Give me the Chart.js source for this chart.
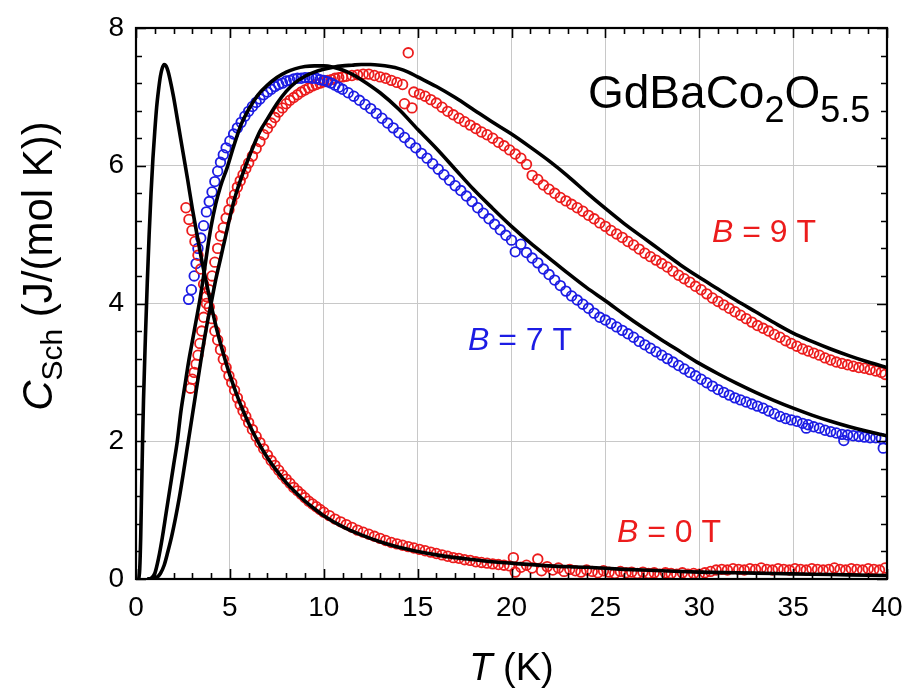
<!DOCTYPE html>
<html><head><meta charset="utf-8">
<script src="https://cdn.jsdelivr.net/npm/chart.js@4.4.1/dist/chart.umd.min.js"></script>
<style>html,body{margin:0;padding:0;background:#fff}</style>
</head><body>
<canvas id="c" width="906" height="690"></canvas>
<script>
// ---- data: B = 0 T (measured) ----
const t0 = [2.66,2.82,2.98,3.14,3.3,3.45,3.6,3.75,3.9,4.05,4.2,4.35,4.5,4.65,4.8,4.95,5.1,5.25,5.4,5.55,5.7,5.85,6.0,6.2,6.4,6.6,6.8,7.0,7.2,7.4,7.6,7.8,8.0,8.2,8.4,8.6,8.8,9.0,9.2,9.4,9.6,9.8,10.0,10.3,10.6,10.9,11.2,11.5,11.8,12.1,12.4,12.7,13.0,13.3,13.6,13.9,14.2,14.5,14.8,15.1,15.4,15.7,16.0,16.3,16.6,16.9,17.2,17.5,17.8,18.1,18.4,18.7,19.0,19.3,19.6,19.9,20.1,20.2,20.5,20.8,21.1,21.4,21.6,21.9,22.2,22.5,22.8,23.1,23.4,23.7,24.0,24.3,24.6,24.9,25.2,25.5,25.8,26.1,26.4,26.7,27.0,27.3,27.6,27.9,28.2,28.5,28.8,29.1,29.4,29.7,30.0,30.3,30.6,30.9,31.2,31.5,31.8,32.1,32.4,32.7,33.0,33.3,33.6,33.9,34.2,34.5,34.8,35.1,35.4,35.7,36.0,36.3,36.6,36.9,37.2,37.5,37.8,38.1,38.4,38.7,39.0,39.3,39.6,39.9];
const c0 = [5.39,5.22,5.06,4.9,4.7,4.5,4.28,4.1,3.95,3.78,3.6,3.47,3.33,3.19,3.07,2.95,2.85,2.74,2.63,2.53,2.44,2.36,2.27,2.17,2.07,1.98,1.89,1.8,1.72,1.65,1.58,1.51,1.45,1.39,1.33,1.28,1.23,1.18,1.13,1.09,1.05,1.01,0.97,0.92,0.87,0.83,0.79,0.75,0.71,0.68,0.65,0.62,0.59,0.56,0.53,0.51,0.49,0.47,0.45,0.43,0.41,0.39,0.37,0.35,0.33,0.31,0.3,0.28,0.27,0.25,0.24,0.23,0.22,0.21,0.2,0.19,0.31,0.1,0.17,0.2,0.16,0.29,0.12,0.18,0.13,0.16,0.11,0.14,0.12,0.1,0.13,0.11,0.09,0.12,0.1,0.08,0.11,0.09,0.1,0.08,0.1,0.08,0.09,0.07,0.09,0.08,0.07,0.09,0.07,0.08,0.07,0.09,0.11,0.13,0.14,0.13,0.15,0.14,0.13,0.15,0.14,0.16,0.14,0.13,0.15,0.14,0.13,0.15,0.14,0.13,0.15,0.14,0.13,0.14,0.16,0.14,0.13,0.15,0.14,0.13,0.15,0.14,0.13,0.16];

// ---- data: B = 7 T (measured) ----
const t7 = [2.8,2.95,3.1,3.2,3.3,3.45,3.6,3.75,3.9,4.05,4.2,4.35,4.5,4.65,4.8,5.0,5.2,5.4,5.6,5.8,6.0,6.2,6.4,6.6,6.8,7.0,7.2,7.4,7.6,7.8,8.0,8.2,8.4,8.6,8.8,9.0,9.2,9.4,9.6,9.8,10.0,10.2,10.4,10.6,10.8,11.0,11.3,11.6,11.9,12.2,12.5,12.8,13.1,13.4,13.7,14.0,14.3,14.6,14.9,15.2,15.5,15.8,16.1,16.4,16.7,17.0,17.3,17.6,17.9,18.2,18.5,18.8,19.1,19.4,19.7,20.0,20.2,20.5,20.8,21.1,21.4,21.7,22.0,22.3,22.6,22.9,23.2,23.5,23.8,24.1,24.4,24.7,25.0,25.3,25.6,25.9,26.2,26.5,26.8,27.1,27.4,27.7,28.0,28.3,28.6,28.9,29.2,29.5,29.8,30.1,30.4,30.7,31.0,31.3,31.6,31.9,32.2,32.5,32.8,33.1,33.4,33.7,34.0,34.3,34.6,34.9,35.2,35.5,35.7,35.8,36.1,36.4,36.7,37.0,37.3,37.6,37.7,37.9,38.2,38.5,38.8,39.1,39.4,39.7,39.8];
const c7 = [4.06,4.2,4.4,4.58,4.8,4.95,5.13,5.33,5.48,5.62,5.77,5.92,6.05,6.16,6.26,6.36,6.46,6.55,6.63,6.72,6.79,6.86,6.92,6.97,7.03,7.07,7.11,7.15,7.18,7.2,7.23,7.24,7.26,7.27,7.27,7.28,7.28,7.27,7.27,7.25,7.24,7.22,7.2,7.17,7.14,7.11,7.06,7.01,6.95,6.89,6.83,6.76,6.69,6.62,6.55,6.48,6.41,6.33,6.26,6.18,6.11,6.03,5.95,5.87,5.79,5.71,5.64,5.56,5.48,5.39,5.31,5.23,5.15,5.07,4.99,4.92,4.75,4.86,4.74,4.66,4.59,4.5,4.42,4.34,4.26,4.18,4.11,4.05,3.99,3.93,3.86,3.8,3.76,3.71,3.66,3.61,3.56,3.51,3.45,3.4,3.35,3.3,3.25,3.2,3.15,3.1,3.05,3.0,2.95,2.9,2.85,2.8,2.75,2.71,2.67,2.63,2.6,2.57,2.54,2.51,2.48,2.44,2.4,2.36,2.33,2.31,2.29,2.26,2.19,2.24,2.21,2.19,2.16,2.14,2.12,2.1,2.01,2.09,2.08,2.07,2.06,2.05,2.05,2.04,1.9];

// ---- data: B = 9 T (measured) ----
const t9 = [2.9,3.0,3.1,3.2,3.3,3.4,3.5,3.6,3.75,3.9,4.05,4.2,4.35,4.5,4.65,4.8,4.95,5.1,5.25,5.4,5.55,5.7,5.85,6.0,6.2,6.4,6.6,6.8,7.0,7.2,7.4,7.6,7.8,8.0,8.2,8.4,8.6,8.8,9.0,9.2,9.4,9.6,9.8,10.0,10.2,10.4,10.6,10.8,11.0,11.2,11.5,11.8,12.1,12.4,12.7,13.0,13.3,13.6,13.9,14.2,14.5,14.3,14.7,14.8,15.1,15.4,15.7,16.0,16.3,16.6,16.9,17.2,17.5,17.8,18.1,18.4,18.7,19.0,19.3,19.6,19.9,20.2,20.5,20.8,21.1,21.4,21.7,22.0,22.3,22.6,22.9,23.2,23.5,23.8,24.1,24.4,24.7,25.0,25.3,25.6,25.9,26.2,26.5,26.8,27.1,27.4,27.7,28.0,28.3,28.6,28.9,29.2,29.5,29.8,30.1,30.4,30.7,31.0,31.3,31.6,31.9,32.2,32.5,32.8,33.1,33.4,33.7,34.0,34.3,34.6,34.9,35.2,35.5,35.8,36.1,36.4,36.7,37.0,37.3,37.6,37.9,38.2,38.5,38.8,39.1,39.4,39.7,39.9];
const c9 = [2.77,2.9,3.0,3.12,3.25,3.42,3.6,3.8,4.0,4.2,4.4,4.6,4.8,4.98,5.1,5.24,5.36,5.48,5.58,5.69,5.78,5.87,5.96,6.04,6.14,6.25,6.35,6.45,6.54,6.62,6.7,6.78,6.84,6.9,6.95,6.99,7.03,7.07,7.1,7.13,7.16,7.18,7.2,7.22,7.24,7.25,7.27,7.28,7.29,7.3,7.31,7.32,7.33,7.33,7.31,7.29,7.27,7.24,7.21,7.18,7.64,6.9,6.84,7.07,7.04,7.01,6.96,6.91,6.85,6.79,6.74,6.69,6.64,6.59,6.54,6.49,6.45,6.4,6.34,6.29,6.23,6.17,6.11,6.02,5.86,5.8,5.72,5.66,5.6,5.54,5.49,5.44,5.39,5.34,5.28,5.23,5.17,5.12,5.06,5.01,4.96,4.9,4.85,4.79,4.73,4.68,4.63,4.58,4.53,4.47,4.41,4.36,4.31,4.25,4.2,4.14,4.08,4.03,3.98,3.93,3.88,3.83,3.78,3.73,3.68,3.64,3.6,3.55,3.51,3.46,3.42,3.38,3.34,3.31,3.28,3.25,3.21,3.18,3.15,3.13,3.11,3.09,3.07,3.06,3.04,3.02,3.0,2.97];

// ---- fit curves ----
const fit0T = [0.15,0.2,0.25,0.3,0.35,0.4,0.5,0.6,0.7,0.8,0.9,1.0,1.1,1.2,1.3,1.4,1.5,1.6,1.7,1.8,2.0,2.25,2.5,2.75,3.0,3.25,3.5,3.75,4.0,4.25,4.5,4.75,5.0,5.5,6.0,6.5,7.0,7.5,8.0,8.5,9.0,9.5,10,11,12,13,14,15,16,17,18,19,20,22,24,26,28,30,32,34,36,38,40];
const fit0C = [0,0.15,0.6,1.3,2.0,2.6,3.5,4.3,5.0,5.6,6.1,6.5,6.85,7.1,7.3,7.42,7.47,7.45,7.38,7.27,7.0,6.6,6.2,5.8,5.38,5.0,4.63,4.3,3.98,3.68,3.42,3.18,2.96,2.58,2.26,1.99,1.76,1.57,1.4,1.26,1.13,1.02,0.92,0.76,0.64,0.54,0.46,0.4,0.35,0.31,0.28,0.25,0.23,0.19,0.17,0.14,0.12,0.1,0.09,0.08,0.07,0.06,0.05];
const fit7T = [0.6,0.8,1.0,1.2,1.4,1.6,1.8,2.0,2.2,2.4,2.6,2.8,3.0,3.2,3.4,3.6,3.8,4.0,4.25,4.5,4.85,5.2,5.6,6.0,6.5,7.0,7.5,8.0,8.5,9.0,9.5,10.0,10.5,11.0,11.5,12,13,14,15,16,17,18,19,20,21,22,23,24,25,26,27,28,29,30,31,32,33,34,35,36,37,38,39,40];
const fit7C = [0,0.01,0.08,0.3,0.6,0.95,1.3,1.65,2.0,2.45,2.8,3.15,3.45,3.75,4.05,4.4,4.78,5.12,5.45,5.7,5.97,6.28,6.6,6.82,7.03,7.17,7.28,7.36,7.41,7.44,7.45,7.45,7.43,7.39,7.33,7.25,7.06,6.82,6.53,6.25,5.95,5.65,5.38,5.12,4.88,4.66,4.44,4.23,4.04,3.84,3.65,3.47,3.3,3.13,2.98,2.84,2.71,2.59,2.48,2.38,2.29,2.21,2.14,2.08];
const fit9T = [0.9,1.1,1.3,1.5,1.7,1.9,2.1,2.3,2.5,2.7,2.9,3.1,3.3,3.5,3.75,4.0,4.25,4.5,4.75,5.0,5.25,5.5,5.8,6.2,6.6,7.0,7.5,8.0,8.5,9.0,9.5,10,10.5,11,11.5,12,12.5,13,13.5,14,14.5,15,16,17,18,19,20,21,22,23,24,25,26,27,28,29,30,31,32,33,34,35,36,37,38,39,40];
const fit9C = [0,0.02,0.08,0.2,0.4,0.62,0.88,1.17,1.5,1.85,2.2,2.55,2.9,3.25,3.65,4.0,4.35,4.65,4.95,5.25,5.52,5.74,5.97,6.25,6.5,6.68,6.9,7.08,7.21,7.3,7.36,7.4,7.43,7.45,7.46,7.47,7.47,7.46,7.44,7.41,7.36,7.29,7.15,6.99,6.81,6.63,6.46,6.27,6.07,5.85,5.61,5.38,5.16,4.96,4.76,4.56,4.38,4.21,4.04,3.88,3.72,3.57,3.45,3.34,3.24,3.15,3.07];

const xTicks = [0,5,10,15,20,25,30,35,40];
const yTicks = [0,2,4,6,8];

const RED = 'rgb(236,28,28)';
const BLUE = 'rgb(28,28,228)';
const FONT = "'Liberation Sans', Arial, sans-serif";

function pts(xs, ys){ return xs.map((x,i)=>({x:x, y:ys[i]})); }

function runs(ctx, x, y, list, align){
  let w = 0;
  list.forEach(r => { ctx.font = r.font; w += ctx.measureText(r.t).width; });
  let cx = align === 'center' ? x - w/2 : x;
  list.forEach(r => {
    ctx.font = r.font; ctx.fillStyle = r.c || '#000';
    ctx.fillText(r.t, cx, y + (r.dy || 0));
    cx += ctx.measureText(r.t).width;
  });
}

const decor = {
  id: 'decor',
  afterDraw(chart){
    const {ctx, chartArea:a, scales:{x, y}} = chart;
    ctx.save();
    // frame
    ctx.strokeStyle = '#000'; ctx.lineWidth = 2.2;
    ctx.strokeRect(a.left, a.top, a.right - a.left, a.bottom - a.top);
    // inward ticks
    ctx.lineWidth = 1.6;
    ctx.beginPath();
    for (let v = 0; v <= 40; v += 1) {
      const px = Math.round(x.getPixelForValue(v)) + 0.5;
      const L = (v % 5 === 0) ? 10 : 6;
      ctx.moveTo(px, a.bottom); ctx.lineTo(px, a.bottom - L);
      ctx.moveTo(px, a.top); ctx.lineTo(px, a.top + L);
    }
    for (let k = 0; k <= 20; k++) {
      const v = k * 0.4;
      const py = Math.round(y.getPixelForValue(v)) + 0.5;
      const L = (k % 5 === 0) ? 10 : 6;
      ctx.moveTo(a.left, py); ctx.lineTo(a.left + L, py);
      ctx.moveTo(a.right, py); ctx.lineTo(a.right - L, py);
    }
    ctx.stroke();

    ctx.textBaseline = 'alphabetic';
    // compound label
    runs(ctx, 588, 108, [
      {t:'GdBaCo', font:'46px ' + FONT},
      {t:'2', font:'36px ' + FONT, dy:14},
      {t:'O', font:'46px ' + FONT},
      {t:'5.5', font:'36px ' + FONT, dy:14}
    ]);
    // field labels
    runs(ctx, 712, 242, [
      {t:'B', font:'italic 32px ' + FONT, c:RED},
      {t:' = 9 T', font:'32px ' + FONT, c:RED}
    ]);
    runs(ctx, 468, 350, [
      {t:'B', font:'italic 32px ' + FONT, c:BLUE},
      {t:' = 7 T', font:'32px ' + FONT, c:BLUE}
    ]);
    runs(ctx, 617, 542, [
      {t:'B', font:'italic 32px ' + FONT, c:RED},
      {t:' = 0 T', font:'32px ' + FONT, c:RED}
    ]);
    // x title
    runs(ctx, (a.left + a.right)/2, 680, [
      {t:'T', font:'italic 38px ' + FONT},
      {t:' (K)', font:'38px ' + FONT}
    ], 'center');
    // y title
    ctx.translate(52, 266);
    ctx.rotate(-Math.PI/2);
    runs(ctx, 0, 0, [
      {t:'C', font:'italic 42px ' + FONT},
      {t:'Sch', font:'30px ' + FONT, dy:10},
      {t:' (J/(mol K))', font:'42px ' + FONT}
    ], 'center');
    ctx.restore();
  }
};

const ptStyle = (col) => ({
  showLine:false, pointStyle:'circle', pointRadius:4.8, pointHoverRadius:4.8,
  pointBorderWidth:1.8, pointBorderColor:col, pointBackgroundColor:'rgba(0,0,0,0)',
  borderColor:col, backgroundColor:'rgba(0,0,0,0)', order:2
});
const fitStyle = {
  showLine:true, pointRadius:0, pointHoverRadius:0, borderColor:'#000', borderWidth:3.6,
  backgroundColor:'rgba(0,0,0,0)', cubicInterpolationMode:'monotone', fill:false, order:0
};

new Chart(document.getElementById('c'), {
  type:'scatter',
  data:{ datasets:[
    Object.assign({label:'B = 0 T', data:pts(t0,c0)}, ptStyle(RED)),
    Object.assign({label:'B = 7 T', data:pts(t7,c7)}, ptStyle(BLUE)),
    Object.assign({label:'B = 9 T', data:pts(t9,c9)}, ptStyle(RED)),
    Object.assign({label:'fit 0 T', data:pts(fit0T,fit0C)}, fitStyle),
    Object.assign({label:'fit 7 T', data:pts(fit7T,fit7C)}, fitStyle),
    Object.assign({label:'fit 9 T', data:pts(fit9T,fit9C)}, fitStyle)
  ]},
  options:{
    responsive:false, animation:false, devicePixelRatio:1,
    layout:{ padding:{ top:28, right:19, left:0, bottom:0 } },
    plugins:{ legend:{display:false}, tooltip:{enabled:false} },
    scales:{
      x:{ type:'linear', min:0, max:40,
        afterBuildTicks(s){ s.ticks = xTicks.map(v=>({value:v})); },
        afterFit(s){ s.height = 111; s.paddingLeft = 0; s.paddingRight = 0; },
        grid:{ color:'#c8c8c8', lineWidth:1, drawTicks:false },
        border:{ display:false },
        ticks:{ font:{size:28, family:FONT}, color:'#000', padding:12, maxRotation:0 }
      },
      y:{ type:'linear', min:0, max:8,
        afterBuildTicks(s){ s.ticks = yTicks.map(v=>({value:v})); },
        afterFit(s){ s.width = 136; s.paddingTop = 0; s.paddingBottom = 0; },
        grid:{ color:'#c8c8c8', lineWidth:1, drawTicks:false },
        border:{ display:false },
        ticks:{ font:{size:28, family:FONT}, color:'#000', padding:12 }
      }
    }
  },
  plugins:[decor]
});
</script>
</body></html>
